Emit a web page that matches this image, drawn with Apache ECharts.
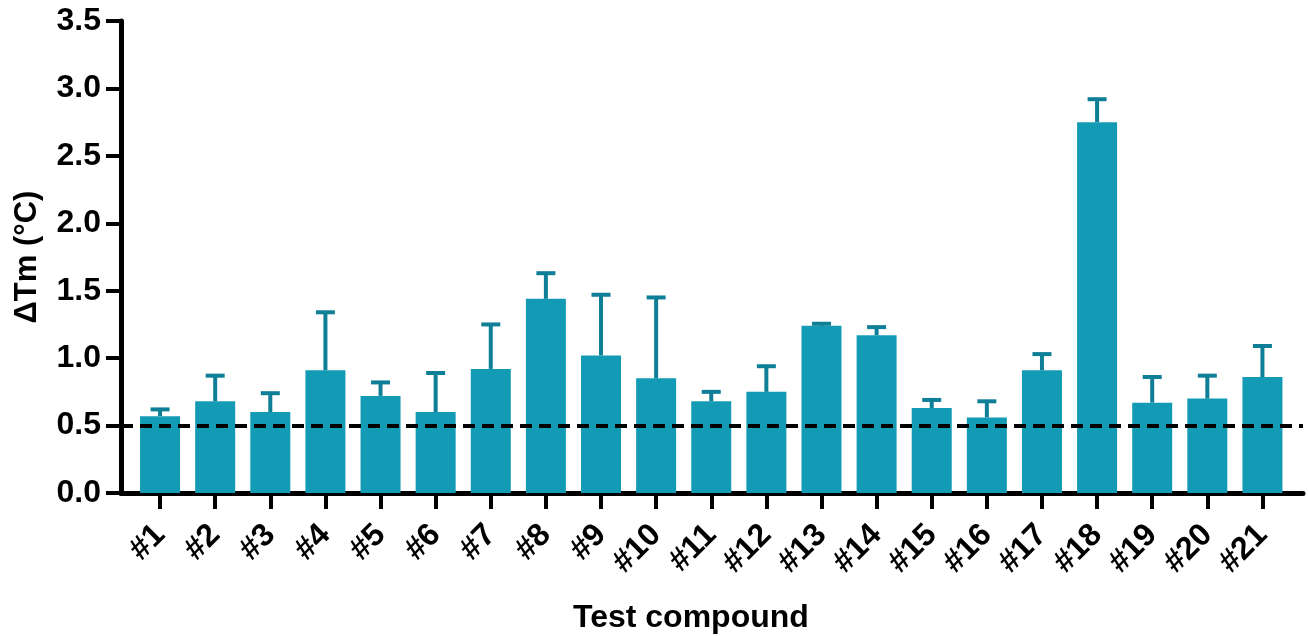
<!DOCTYPE html>
<html>
<head>
<meta charset="utf-8">
<script src="https://cdn.jsdelivr.net/npm/echarts@6/dist/echarts.min.js"></script>
<style>
html,body{margin:0;padding:0;background:#fff;}
#chart{width:1309px;height:636px;}
</style>
</head>
<body>
<div id="chart"></div>
<script>
const categories = ['#1','#2','#3','#4','#5','#6','#7','#8','#9','#10','#11','#12','#13','#14','#15','#16','#17','#18','#19','#20','#21'];
const meanValues = [0.57,0.68,0.60,0.91,0.72,0.60,0.92,1.44,1.02,0.85,0.68,0.75,1.24,1.17,0.63,0.56,0.91,2.75,0.67,0.70,0.86];
const sdValues   = [0.05,0.19,0.14,0.43,0.10,0.29,0.33,0.19,0.45,0.60,0.07,0.19,0.015,0.06,0.06,0.12,0.12,0.17,0.19,0.17,0.23];
const yTicks = [0, 0.5, 1.0, 1.5, 2.0, 2.5, 3.0, 3.5];
const thresholdValue = 0.5;

const FONT = "'Liberation Sans', Arial, Helvetica, sans-serif";
const BAR_COLOR = '#139BB5';
const ERR_COLOR = '#0F7E97';

const chart = echarts.init(document.getElementById('chart'), null, {renderer: 'canvas'});

const errData = meanValues.map((m, i) => [i, m, sdValues[i]]);

const option = {
  animation: false,
  backgroundColor: '#ffffff',
  title: {
    text: 'Test compound',
    left: 568,
    top: 597,
    textStyle: {fontFamily: FONT, fontWeight: 'bold', fontSize: 32, color: '#000'}
  },
  grid: [
    {left: 121, right: 6, top: 21, bottom: 143},
    {left: 132.5, right: 19, top: 21, bottom: 143}
  ],
  xAxis: [
    {
      gridIndex: 0, type: 'value', min: 0, max: 1,
      axisLine: {show: true, onZero: false, lineStyle: {color: '#000', width: 5}},
      axisTick: {show: false}, axisLabel: {show: false}, splitLine: {show: false}
    },
    {
      gridIndex: 1, type: 'category', data: categories,
      axisLine: {show: false},
      axisTick: {show: true, alignWithLabel: true, length: 16, lineStyle: {color: '#000', width: 4}},
      axisLabel: {
        rotate: 45, margin: 37, interval: 0,
        fontFamily: FONT, fontWeight: 'bold', fontSize: 32, color: '#000'
      },
      splitLine: {show: false}
    }
  ],
  yAxis: [
    {
      gridIndex: 0, type: 'value', min: 0, max: 3.5, interval: 0.5,
      name: 'ΔTm (°C)', nameLocation: 'middle', nameGap: 78,
      nameTextStyle: {fontFamily: FONT, fontWeight: 'bold', fontSize: 31, color: '#000'},
      axisLine: {show: true, onZero: false, lineStyle: {color: '#000', width: 5}},
      axisTick: {show: true, length: 15, lineStyle: {color: '#000', width: 4}},
      axisLabel: {
        margin: 20, fontFamily: FONT, fontWeight: 'bold', fontSize: 32, color: '#000',
        formatter: v => (yTicks.indexOf(v) >= 0 ? v.toFixed(1) : '')
      },
      splitLine: {show: false}
    },
    {
      gridIndex: 1, type: 'value', min: 0, max: 3.5, interval: 0.5, show: false
    }
  ],
  series: [
    {
      type: 'line', xAxisIndex: 0, yAxisIndex: 0, data: [],
      silent: true,
      markLine: {
        silent: true, symbol: ['none', 'none'], label: {show: false},
        lineStyle: {color: '#000', width: 4, type: [12, 7]},
        data: [{yAxis: thresholdValue}]
      },
      z: 5
    },
    {
      type: 'bar', xAxisIndex: 1, yAxisIndex: 1, data: meanValues,
      barWidth: 40,
      itemStyle: {color: BAR_COLOR},
      z: 2
    },
    {
      type: 'custom', xAxisIndex: 1, yAxisIndex: 1, data: errData,
      encode: {x: 0, y: 1},
      z: 3,
      renderItem: function (params, api) {
        const idx = api.value(0);
        const m = api.value(1);
        const sd = api.value(2);
        const base = api.coord([idx, m]);
        const top = api.coord([idx, m + sd]);
        const capHalf = 9.5;
        const style = {stroke: ERR_COLOR, lineWidth: 4, fill: null};
        return {
          type: 'group',
          children: [
            {type: 'line', shape: {x1: base[0], y1: base[1], x2: top[0], y2: top[1]}, style: style},
            {type: 'line', shape: {x1: top[0] - capHalf, y1: top[1], x2: top[0] + capHalf, y2: top[1]}, style: style}
          ]
        };
      }
    }
  ]
};
chart.setOption(option);
</script>
</body>
</html>
